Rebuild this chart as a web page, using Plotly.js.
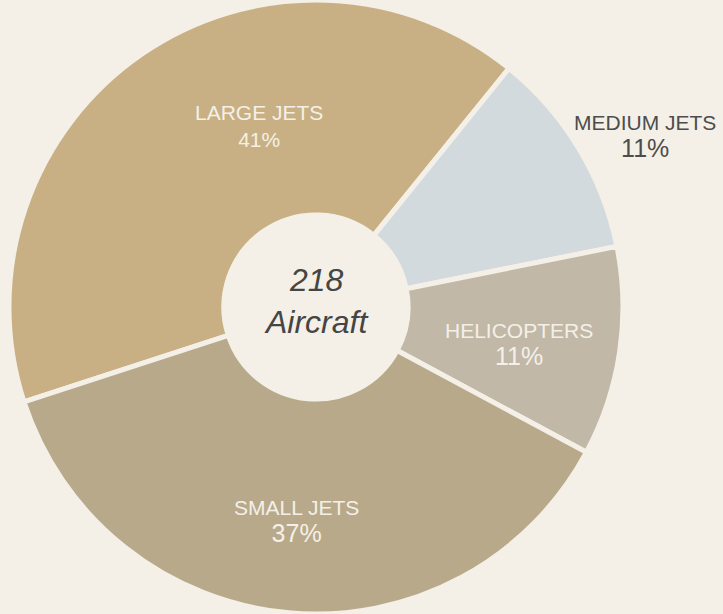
<!DOCTYPE html>
<html>
<head>
<meta charset="utf-8">
<script src="https://cdn.plot.ly/plotly-3.0.1.min.js"></script>
<style>html,body{margin:0;padding:0;background:#f4f0e7;}#chart{width:723px;height:614px;}</style>
</head>
<body>
<div id="chart"></div>
<script>
const categories = ['LARGE JETS', 'MEDIUM JETS', 'HELICOPTERS', 'SMALL JETS'];
const counts = [89, 24, 24, 81];
const totalCount = 218;
const totalWord = 'Aircraft';

// styling / layout (not data)
const sliceColors = ['#c8b084', '#d3dadd', '#c1b8a8', '#b8a98b'];
const labelColors = ['#f4f0e7', '#4d4d4d', '#f4f0e7', '#f4f0e7'];
const pctSizes = [21, 25, 25, 25];
const labelAngleFrac = [0.616, 0.598, 0.555, 0.5];   // where along the slice the label sits
const labelRadiusFrac = [0.618, 1.207, 0.672, 0.70]; // fraction of pie radius
const W = 723, H = 614;
const domainX = [0, 0.874];
const rotation = 252;
const FONT = 'Liberation Sans, Arial, sans-serif';

const trace = {
  type: 'pie',
  labels: categories,
  values: counts,
  sort: false,
  direction: 'clockwise',
  rotation: rotation,
  hole: 0.3,
  marker: {colors: sliceColors, line: {color: '#f4f0e7', width: 5}},
  textinfo: 'none',
  domain: {x: domainX, y: [0, 1]},
  automargin: false,
  showlegend: false,
  hoverinfo: 'label+value+percent'
};

// label annotations placed from the slice angles computed from the data
const total = counts.reduce((a, b) => a + b, 0);
const cx = (domainX[0] + domainX[1]) / 2 * W;
const cy = H / 2;
const R = Math.min((domainX[1] - domainX[0]) * W, H) / 2;
const annotations = [];
let start = rotation;
counts.forEach((v, i) => {
  const span = v / total * 360;
  const ang = (start + span * labelAngleFrac[i]) * Math.PI / 180;
  const rad = labelRadiusFrac[i] * R;
  const px = cx + rad * Math.sin(ang);
  const py = cy - rad * Math.cos(ang);
  annotations.push({
    xref: 'paper', yref: 'paper', x: px / W, y: 1 - py / H,
    xanchor: 'center', yanchor: 'middle', showarrow: false,
    text: categories[i] + '<br><span style="font-size:' + pctSizes[i] + 'px">' +
          Math.round(v / total * 100) + '%</span>',
    font: {family: FONT, size: 21, color: labelColors[i]}
  });
  start += span;
});
annotations.push({
  xref: 'paper', yref: 'paper', x: cx / W, y: 1 - cy / H,
  xanchor: 'center', yanchor: 'middle', showarrow: false, yshift: 6,
  text: '<i>' + totalCount + '<br>' + totalWord + '</i>',
  font: {family: FONT, size: 32, color: '#454545'}
});

const layout = {
  width: W, height: H,
  margin: {l: 0, r: 0, t: 0, b: 0},
  paper_bgcolor: '#f4f0e7',
  plot_bgcolor: '#f4f0e7',
  showlegend: false,
  annotations: annotations
};

Plotly.newPlot('chart', [trace], layout, {displayModeBar: false, staticPlot: true});
</script>
</body>
</html>
